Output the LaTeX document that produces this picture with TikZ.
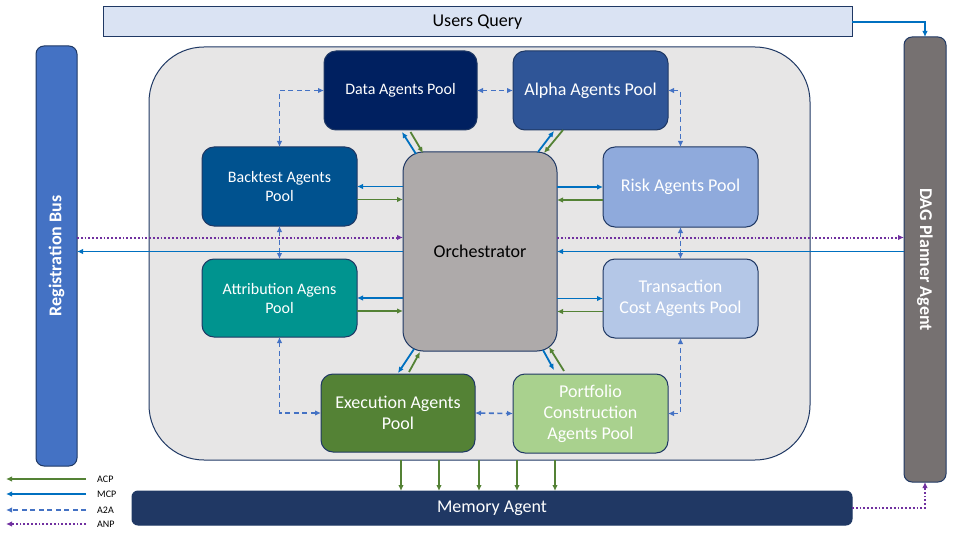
\documentclass[tikz,border=0pt]{standalone}
\usepackage{fontspec}
\setmainfont{Carlito}
\usepackage{graphicx}
\usepackage{xcolor}
\usetikzlibrary{arrows.meta,calc}

\definecolor{navyline}{HTML}{1F3864}
\definecolor{contgray}{HTML}{E7E6E6}
\definecolor{uqfill}{HTML}{DAE3F3}
\definecolor{regfill}{HTML}{4472C4}
\definecolor{dagfill}{HTML}{767171}
\definecolor{memfill}{HTML}{203864}
\definecolor{datafill}{HTML}{002060}
\definecolor{alphafill}{HTML}{2F5597}
\definecolor{btfill}{HTML}{00528F}
\definecolor{attrfill}{HTML}{00948F}
\definecolor{riskfill}{HTML}{8FAADC}
\definecolor{tcfill}{HTML}{B4C7E7}
\definecolor{orchfill}{HTML}{AEAAAA}
\definecolor{execfill}{HTML}{548235}
\definecolor{portfill}{HTML}{A9D18E}
\definecolor{mcpblue}{HTML}{0070C0}
\definecolor{acpgreen}{HTML}{548235}
\definecolor{a2ablue}{HTML}{4472C4}
\definecolor{anppurple}{HTML}{7030A0}

\begin{document}
\begin{tikzpicture}[x=1pt, y=-1pt, >={Latex[length=6pt,width=5.5pt]},
	box/.style={draw=navyline, line width=1pt, inner sep=0pt, outer sep=0pt, align=center, text=white},
	pool/.style={box, rounded corners=12pt, minimum width=155pt, minimum height=79pt, font=\fontsize{18}{21}\selectfont},
	smallpool/.style={pool, font=\fontsize{16}{19}\selectfont},
	mcp/.style={draw=mcpblue, line width=1.8pt, ->},
	acp/.style={draw=acpgreen, line width=1.8pt, ->},
	a2a/.style={draw=a2ablue, line width=1.6pt, dash pattern=on 5pt off 3.5pt, <->},
	anp/.style={draw=anppurple, line width=2pt, dash pattern=on 1.8pt off 2pt, ->},
	legtxt/.style={font=\fontsize{10}{11}\selectfont, anchor=west, inner sep=0pt}]
	\useasboundingbox (0,0) rectangle (960,540);

	\node[box, fill=contgray, rounded corners=55pt, minimum width=661pt, minimum height=413pt] (cont) at (479.5,253.5) {};
	\node[box, fill=uqfill, text=black, minimum width=749pt, minimum height=30pt, font=\fontsize{18}{21}\selectfont] (uq) at (477.5,22) {Users Query};
	\node[box, fill=regfill, rounded corners=8pt, minimum width=41pt, minimum height=420pt, font=\bfseries\fontsize{18}{21}\selectfont] (reg) at (56.5,256) {\rotatebox{90}{Registration Bus}};
	\node[box, fill=dagfill, rounded corners=8pt, minimum width=42pt, minimum height=445pt, font=\bfseries\fontsize{18}{21}\selectfont] (dag) at (925,259.5) {\rotatebox{-90}{DAG Planner Agent}};
	\node[box, fill=memfill, rounded corners=6pt, minimum width=720pt, minimum height=34pt, font=\fontsize{18}{21}\selectfont] (mem) at (492,508) {Memory Agent};

	\node[smallpool, fill=datafill, minimum width=153pt] (data) at (400.5,90.5) {Data Agents Pool};
	\node[pool, fill=alphafill] (alpha) at (590.5,90.5) {Alpha Agents Pool};
	\node[smallpool, fill=btfill] (bt) at (279.5,186.5) {Backtest Agents\\Pool};
	\node[smallpool, fill=attrfill, minimum height=78pt] (attr) at (279.5,298) {Attribution Agens\\Pool};
	\node[pool, fill=riskfill, minimum height=80pt] (risk) at (680.5,187) {Risk Agents Pool};
	\node[pool, fill=tcfill] (tc) at (680.5,298.5) {Transaction\\Cost Agents Pool};
	\node[pool, fill=execfill, minimum width=154pt, minimum height=78pt] (exec) at (398,413) {Execution Agents\\Pool};
	\node[pool, fill=portfill] (port) at (590.5,413.5) {Portfolio\\Construction\\Agents Pool};
	\node[pool, fill=orchfill, text=black, rounded corners=20pt, minimum width=154pt, minimum height=199pt] (orch) at (480,251.5) {Orchestrator};

	\draw[a2a] (data.west) -| (bt.north);
	\draw[a2a] (data.east) -- (alpha.west);
	\draw[a2a] (alpha.east) -| (risk.north);
	\draw[a2a] (bt.south) -- (attr.north);
	\draw[a2a] (risk.south) -- (tc.north);
	\draw[a2a] (attr.south) |- (exec.west);
	\draw[a2a] (exec.east) -- (port.west);
	\draw[a2a] (port.east) -| (tc.south);

	\draw[mcp] (orch.west |- bt.east) -- (bt.east);
	\draw[acp] ([yshift=-13pt]bt.east) -- ([yshift=-13pt]bt.east -| orch.west);
	\draw[mcp] (orch.west |- attr.east) -- (attr.east);
	\draw[acp] ([yshift=-13pt]attr.east) -- ([yshift=-13pt]attr.east -| orch.west);
	\draw[mcp] (orch.east |- risk.west) -- (risk.west);
	\draw[acp] ([yshift=-13pt]risk.west) -- ([yshift=-13pt]risk.west -| orch.east);
	\draw[mcp] (orch.east |- tc.west) -- (tc.west);
	\draw[acp] ([yshift=-13pt]tc.west) -- ([yshift=-13pt]tc.west -| orch.east);

	\draw[mcp] ($(orch.north west)+(13,2)$) -- ($(data.south)+(1.5,2)$);
	\draw[acp] ($(data.south)+(10,2)$) -- ($(orch.north west)+(20,1)$);
	\draw[mcp] ($(orch.north east)+(-19,0)$) -- ($(alpha.south west)+(41,1)$);
	\draw[acp] ($(alpha.south west)+(50,0)$) -- ($(orch.north east)+(-13,1)$);
	\draw[mcp] ($(orch.south west)+(11,-2)$) -- ($(exec.north)+(0,-1)$);
	\draw[acp] ($(exec.north)+(11,-2)$) -- ($(orch.south west)+(17,1)$);
	\draw[mcp] ($(orch.south east)+(-14,-1)$) -- ($(port.north west)+(41,-4)$);
	\draw[acp] ($(port.north west)+(51,-3)$) -- ($(orch.south east)+(-8,-4)$);

	\coordinate (anpL) at ([yshift=14pt]orch.west);
	\coordinate (anpR) at ([yshift=14pt]orch.east);
	\draw[anp] (anpL -| reg.east) -- (anpL);
	\draw[anp] (anpR) -- (anpR -| dag.west);
	\draw[mcp] (orch.west) -- (orch.west -| reg.east);
	\draw[mcp] (orch.east -| dag.west) -- (orch.east);

	\draw[mcp] (uq.east) -| (dag.north);
	\draw[anp] (mem.east) -| (dag.south);

	\foreach \x in {401,439,479,517,555}
		\draw[acp] (\x,0 |- cont.south) -- (\x,0 |- mem.north);

	\foreach \y/\s/\t in {479/acp/ACP,494/mcp/MCP,510/a2a/A2A,524/anp/ANP}{
		\node[legtxt] (leg\t) at (97,\y) {\t};
		\coordinate (legend\t) at (6,\y);
		\draw[\s, -{Latex[length=6pt,width=5.5pt]}] ([xshift=-11pt]leg\t.west) -- (legend\t);
	}
\end{tikzpicture}
\end{document}
